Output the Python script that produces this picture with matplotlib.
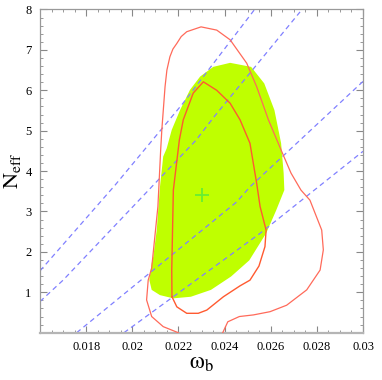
import matplotlib
matplotlib.use("Agg")
import matplotlib.pyplot as plt
from matplotlib.ticker import MultipleLocator, FixedLocator

plt.rcParams["font.family"] = ["Liberation Serif", "DejaVu Serif"]
plt.rcParams["mathtext.fontset"] = "stix"

# filled likelihood region (green)
fill_x = [0.02120, 0.02084, 0.02074, 0.02084, 0.02091, 0.02106, 0.02120, 0.02134,
          0.02149, 0.02171, 0.02207, 0.02250, 0.02294, 0.02351, 0.02424, 0.02515,
          0.02572, 0.02616, 0.02645, 0.02656, 0.02659, 0.02623, 0.02580, 0.02507,
          0.02428, 0.02341, 0.02254, 0.02178]
fill_y = [0.93, 1.06, 1.30, 1.72, 1.88, 2.54, 3.61, 4.36,
          4.56, 5.02, 5.51, 6.01, 6.34, 6.58, 6.68, 6.58,
          6.17, 5.51, 4.69, 3.95, 3.53, 3.02, 2.46, 1.79,
          1.39, 1.06, 0.89, 0.85]

# outer red contour (open at the bottom, runs below the axis)
outer_x = [0.02210, 0.02199, 0.02134, 0.02084, 0.02062, 0.02069, 0.02084, 0.02111,
           0.02123, 0.02128, 0.02142, 0.02150, 0.02163, 0.02176, 0.02193, 0.02212,
           0.02236, 0.02298, 0.02366, 0.02424, 0.02496, 0.02539, 0.02590, 0.02645,
           0.02688, 0.02731, 0.02770, 0.02821, 0.02828, 0.02814, 0.02756, 0.02669,
           0.02597, 0.02525, 0.02464, 0.02414, 0.02392, 0.02385]
outer_y = [-0.10, 0.00, 0.15, 0.40, 0.81, 1.30, 1.60, 3.12,
           4.52, 5.02, 6.09, 6.50, 6.83, 7.02, 7.16, 7.33,
           7.45, 7.57, 7.49, 7.25, 6.67, 6.09, 5.27, 4.52,
           3.95, 3.53, 3.28, 2.54, 2.05, 1.55, 1.06, 0.68,
           0.52, 0.44, 0.40, 0.27, 0.00, -0.10]

# inner red contour (closed)
inner_x = [0.02172, 0.02171, 0.02178, 0.02204, 0.02221, 0.02264, 0.02308, 0.02366,
           0.02424, 0.02467, 0.02510, 0.02539, 0.02554, 0.02580, 0.02575, 0.02549,
           0.02510, 0.02467, 0.02395, 0.02323, 0.02286, 0.02236, 0.02193, 0.02172]
inner_y = [0.89, 1.55, 3.53, 4.77, 5.27, 5.93, 6.21, 6.00,
           5.68, 5.27, 4.69, 3.70, 3.12, 2.54, 2.13, 1.65,
           1.30, 1.16, 0.89, 0.56, 0.48, 0.48, 0.64, 0.89]

# dashed iso-lines
iso_lines = [
    ([0.01600, 0.01925, 0.02220, 0.02530], [1.53, 3.65, 5.68, 8.00]),
    ([0.01600, 0.01700, 0.02277, 0.02351, 0.02727], [0.77, 1.30, 4.77, 5.32, 7.94]),
    ([0.01759, 0.02453, 0.02510, 0.03000], [0.00, 3.24, 3.61, 6.22]),
    ([0.01964, 0.02554, 0.03000], [0.00, 2.46, 4.49]),
]

best_fit = (0.0230, 3.42)

xticks = [0.018, 0.020, 0.022, 0.024, 0.026, 0.028, 0.030]
xtick_labels = ["0.018", "0.02", "0.022", "0.024", "0.026", "0.028", "0.03"]
yticks = [1, 2, 3, 4, 5, 6, 7, 8]

fig = plt.figure(figsize=(3.82, 3.80), dpi=100)
ax = fig.add_axes([0.1047, 0.1245, 0.8456, 0.8505])

ax.fill(fill_x, fill_y, color="#bfff00", lw=0, zorder=1)
for xs, ys in iso_lines:
    ax.plot(xs, ys, color="#8080ff", lw=0.9, dashes=(4, 3), zorder=2)
ax.plot(outer_x, outer_y, color="#ff6a5a", lw=0.9, zorder=3)
ax.plot(inner_x, inner_y, color="#ff5a30", lw=1.0, zorder=3)
ax.plot(*best_fit, marker="+", ms=10, mew=1.3, color="#66ee33", zorder=4)

ax.set_xlim(0.016, 0.030)
ax.set_ylim(0, 8)
ax.xaxis.set_major_locator(FixedLocator(xticks))
ax.set_xticklabels(xtick_labels)
ax.xaxis.set_minor_locator(MultipleLocator(0.0005))
ax.yaxis.set_major_locator(FixedLocator(yticks))
ax.yaxis.set_minor_locator(MultipleLocator(0.2))
ax.tick_params(which="both", direction="in", top=True, right=True,
               color="#888888", labelsize=9, pad=6)
ax.tick_params(which="major", length=5, width=0.8)
ax.tick_params(which="minor", length=2.5, width=0.6)
for side, sp in ax.spines.items():
    sp.set_color("#999999")
    sp.set_linewidth(0.9)
ax.spines["bottom"].set_color("#b5b5b5")
ax.spines["bottom"].set_linewidth(1.6)

ax.set_xlabel(r"$\mathrm{\omega}_\mathrm{b}$", fontsize=17, labelpad=0)
ax.set_ylabel(r"$\mathrm{N}_\mathrm{eff}$", fontsize=16, labelpad=2)

fig.savefig("out.png", dpi=100)
